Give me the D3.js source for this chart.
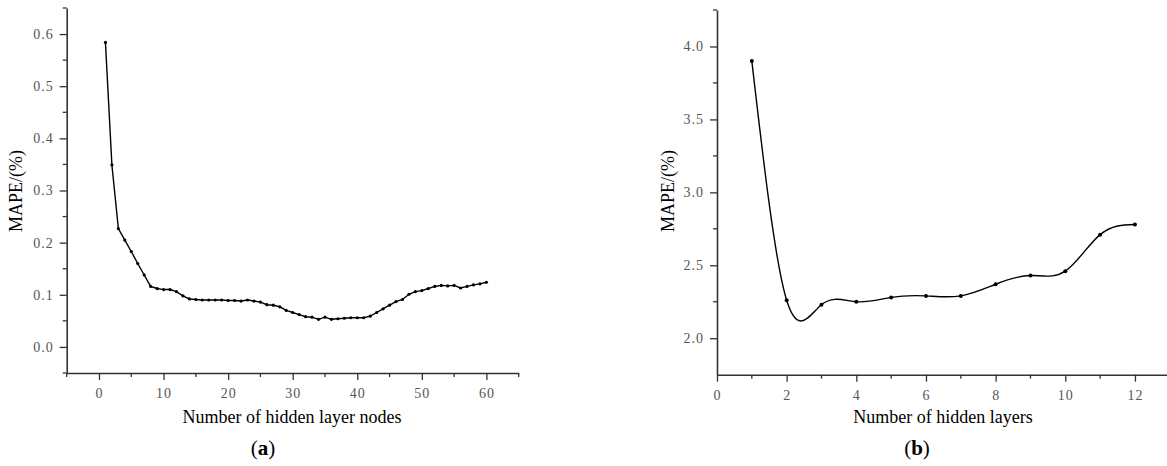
<!DOCTYPE html>
<html>
<head>
<meta charset="utf-8">
<script src="https://cdn.jsdelivr.net/npm/d3@7"></script>
<style>
  body { margin: 0; background: #fff; }
  svg { display: block; }
</style>
</head>
<body>
<div id="container"></div>
<script>
// panel (a): MAPE vs number of hidden layer nodes
const nodes = d3.range(1, 61);
const mapeNodes = [
  0.584, 0.349, 0.227, 0.205, 0.183, 0.160, 0.138, 0.116, 0.112, 0.110,
  0.110, 0.106, 0.098, 0.092, 0.091, 0.090, 0.090, 0.090, 0.090, 0.089,
  0.089, 0.088, 0.090, 0.088, 0.086, 0.081, 0.080, 0.077, 0.070, 0.066,
  0.062, 0.058, 0.057, 0.053, 0.057, 0.053, 0.054, 0.055, 0.056, 0.056,
  0.056, 0.059, 0.066, 0.073, 0.080, 0.087, 0.091, 0.101, 0.106, 0.108,
  0.112, 0.116, 0.118, 0.117, 0.118, 0.113, 0.116, 0.119, 0.121, 0.124
];
const ticksA_x = [0, 10, 20, 30, 40, 50, 60];
const ticksA_y = [0.0, 0.1, 0.2, 0.3, 0.4, 0.5, 0.6];

// panel (b): MAPE vs number of hidden layers
const layers = [1, 2, 3, 4, 5, 6, 7, 8, 9, 10, 11, 12];
const mapeLayers = [3.90, 2.26, 2.23, 2.25, 2.28, 2.29, 2.29, 2.37, 2.43, 2.46, 2.71, 2.78];
const ticksB_x = [0, 2, 4, 6, 8, 10, 12];
const ticksB_y = [2.0, 2.5, 3.0, 3.5, 4.0];

const width = 1167, height = 466;

const svg = d3.select('#container').append('svg')
    .attr('width', width)
    .attr('height', height);

function panel(opt) {
  const x = d3.scaleLinear().domain(opt.xDomain).range(opt.xRange);
  const y = d3.scaleLinear().domain(opt.yDomain).range(opt.yRange);
  const g = svg.append('g');

  // minor ticks
  g.selectAll('.xminor').data(opt.xMinor).enter().append('line')
      .attr('x1', d => x(d)).attr('x2', d => x(d))
      .attr('y1', y.range()[0]).attr('y2', y.range()[0] + 4)
      .attr('stroke', '#333').attr('stroke-width', 1.3);
  g.selectAll('.yminor').data(opt.yMinor).enter().append('line')
      .attr('y1', d => y(d)).attr('y2', d => y(d))
      .attr('x1', x.range()[0]).attr('x2', x.range()[0] - 4)
      .attr('stroke', '#333').attr('stroke-width', 1.3);

  const xAxis = g.append('g')
      .attr('transform', `translate(0,${y.range()[0]})`)
      .call(d3.axisBottom(x).tickValues(opt.xTicks).tickSize(7).tickSizeOuter(0).tickPadding(8)
            .tickFormat(d3.format('d')));
  const yAxis = g.append('g')
      .attr('transform', `translate(${x.range()[0]},0)`)
      .call(d3.axisLeft(y).tickValues(opt.yTicks).tickSize(7).tickSizeOuter(0).tickPadding(6)
            .tickFormat(d3.format('.1f')));

  [xAxis, yAxis].forEach(a => {
    a.select('.domain').attr('stroke', '#333').attr('stroke-width', 1.6);
    a.selectAll('.tick line').attr('stroke', '#333').attr('stroke-width', 1.3);
    a.selectAll('.tick text')
        .attr('fill', '#555')
        .style('font-family', '"Liberation Serif", serif')
        .style('font-size', '14px')
        .style('letter-spacing', '1px');
  });

  const line = d3.line()
      .x((d, i) => x(opt.xs[i]))
      .y(d => y(d))
      .curve(opt.curve);

  g.append('path')
      .datum(opt.ys)
      .attr('d', line)
      .attr('fill', 'none')
      .attr('stroke', '#000')
      .attr('stroke-width', 1.4);

  g.selectAll('circle').data(opt.ys).enter().append('circle')
      .attr('cx', (d, i) => x(opt.xs[i]))
      .attr('cy', d => y(d))
      .attr('r', opt.r)
      .attr('fill', '#000');

  g.append('text')
      .attr('x', opt.xLabelX).attr('y', 423)
      .attr('text-anchor', 'middle')
      .style('font-family', '"Liberation Serif", serif')
      .style('font-size', '18px')
      .text(opt.xLabel);

  g.append('text')
      .attr('transform', `translate(${opt.yLabelX},191) rotate(-90)`)
      .attr('text-anchor', 'middle')
      .style('font-family', '"Liberation Serif", serif')
      .style('font-size', '18px')
      .text('MAPE/(%)');

  const cap = g.append('text')
      .attr('x', opt.capX).attr('y', 455)
      .attr('text-anchor', 'middle')
      .style('font-family', '"Liberation Serif", serif')
      .style('font-size', '21px');
  cap.append('tspan').text('(');
  cap.append('tspan').style('font-weight', 'bold').text(opt.cap);
  cap.append('tspan').text(')');
}

panel({
  xs: nodes, ys: mapeNodes,
  xDomain: [-5, 65], xRange: [66.7, 518.7],
  yDomain: [-0.05, 0.65], yRange: [373, 8],
  xTicks: ticksA_x, yTicks: ticksA_y,
  xMinor: [-5, 5, 15, 25, 35, 45, 55, 65],
  yMinor: [-0.05, 0.05, 0.15, 0.25, 0.35, 0.45, 0.55, 0.65],
  curve: d3.curveLinear, r: 1.6,
  xLabel: 'Number of hidden layer nodes', xLabelX: 292,
  yLabelX: 22, cap: 'a', capX: 263
});

panel({
  xs: layers, ys: mapeLayers,
  xDomain: [0, 13], xRange: [717, 717 + 13 * 34.83],
  yDomain: [1.75, 4.25], yRange: [374.7, 10],
  xTicks: ticksB_x, yTicks: ticksB_y,
  xMinor: [1, 3, 5, 7, 9, 11, 13],
  yMinor: [2.25, 2.75, 3.25, 3.75, 4.25],
  curve: d3.curveNatural, r: 2,
  xLabel: 'Number of hidden layers', xLabelX: 943,
  yLabelX: 674, cap: 'b', capX: 917
});
</script>
</body>
</html>
